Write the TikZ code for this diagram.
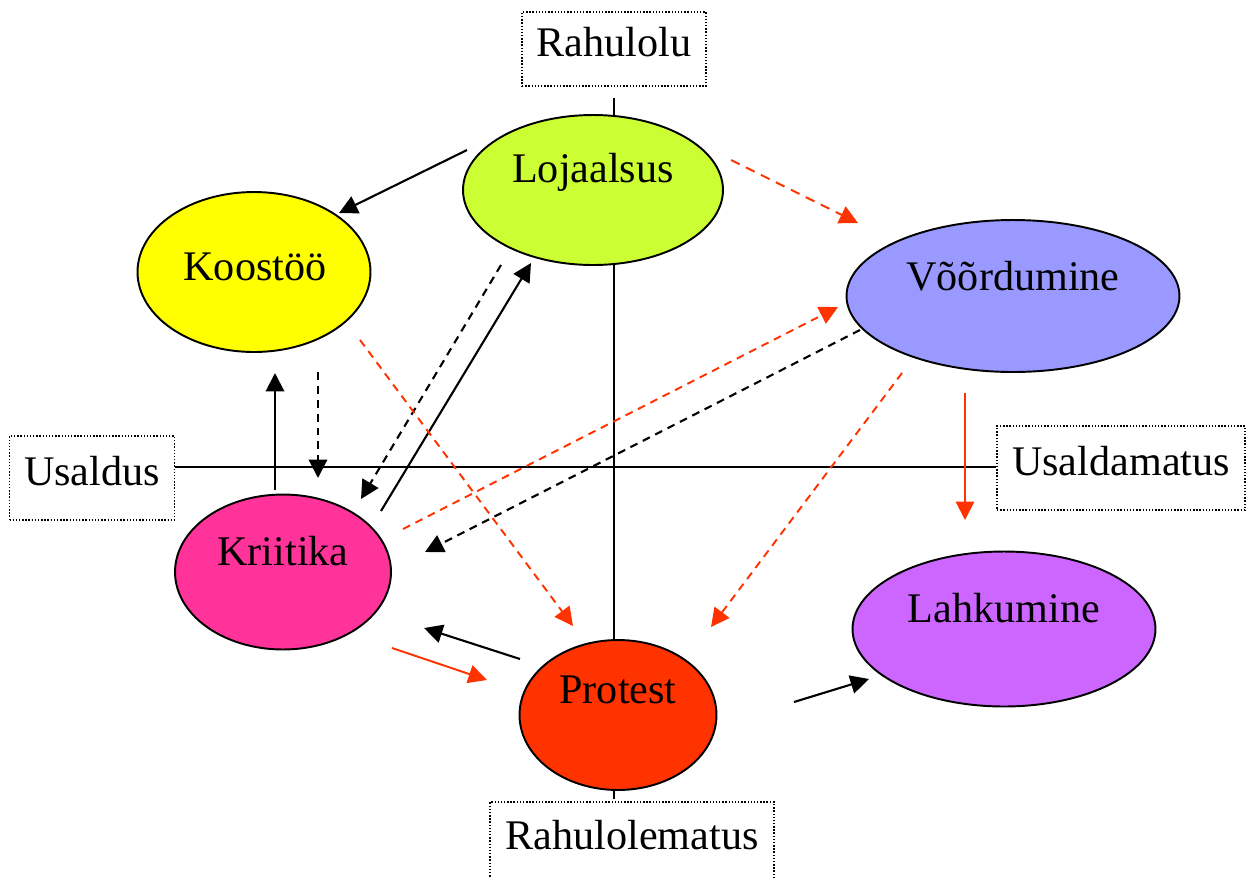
\documentclass[tikz,border=0pt]{standalone}
\usepackage{fontspec}
\setmainfont{Liberation Serif}
\usetikzlibrary{arrows.meta,shapes.geometric}
\definecolor{lojcolor}{RGB}{204,255,51}
\definecolor{koocolor}{RGB}{255,255,0}
\definecolor{voocolor}{RGB}{153,153,255}
\definecolor{kricolor}{RGB}{255,51,153}
\definecolor{lahcolor}{RGB}{204,102,255}
\definecolor{procolor}{RGB}{255,51,0}
\definecolor{arrcolor}{RGB}{255,51,0}

\begin{document}
\begin{tikzpicture}[x=0.02cm,y=-0.02cm,
    font=\fontsize{24}{28}\selectfont,
    axisbox/.style={draw,densely dotted,line width=0.8pt,inner sep=0pt,text height=17pt,text depth=9pt},
    blob/.style={ellipse,draw,line width=1.1pt,inner sep=0pt},
    word/.style={text height=17pt,text depth=5pt,inner sep=0pt},
    blk/.style={-{Triangle[length=10.5pt,width=10.5pt]},line width=1.2pt},
    red/.style={blk,arrcolor,line width=1.1pt},
    dsh/.style={dash pattern=on 4.5pt off 3.4pt}]
  \useasboundingbox (0,0) rectangle (1252,877);
  % boxes on the axes
  \node[axisbox,minimum width=3.68cm,minimum height=1.48cm] (rah) at (614,49) {Rahulolu};
  \node[axisbox,minimum width=5.68cm,minimum height=1.6cm] (rahm) at (632,842) {Rahulolematus};
  \node[axisbox,minimum width=3.3cm,minimum height=1.68cm] (usal) at (92,478) {Usaldus};
  \node[axisbox,minimum width=4.96cm,minimum height=1.68cm] (usam) at (1121,468) {Usaldamatus};
  \draw[line width=1.1pt] (usal.east |- 0,467) -- (usam.west |- 0,467);
  \draw[line width=1.1pt,shorten <=0.22cm,shorten >=0.04cm] (rah.south) -- (rah.south |- rahm.north);
  % ellipses
  \node[blob,fill=lojcolor,minimum width=5.2cm,minimum height=3cm] (loj) at (593,190) {};
  \node[blob,fill=koocolor,minimum width=4.66cm,minimum height=3.2cm] (koo) at (254,272) {};
  \node[blob,fill=voocolor,minimum width=6.66cm,minimum height=3.04cm] (voo) at (1013,296) {};
  \node[blob,fill=kricolor,minimum width=4.32cm,minimum height=3.1cm] (kri) at (283,572) {};
  \node[blob,fill=lahcolor,minimum width=6.06cm,minimum height=3.1cm] (lah) at (1004,629) {};
  \node[blob,fill=procolor,minimum width=3.94cm,minimum height=3cm] (pro) at (618,715) {};
  \node[word] (lojtxt) at (593,172) {Lojaalsus};
  \node[word] (kootxt) at (255,270) {Koostöö};
  \node[word] (vootxt) at (1013,280) {Võõrdumine};
  \node[word] (kritxt) at (283,555) {Kriitika};
  \node[word] (lahtxt) at (1004,612) {Lahkumine};
  \node[word] (protxt) at (618,693) {Protest};
  % arrow ends
  \coordinate (lk1) at (467,150);  \coordinate (lk2) at (339,213);
  \coordinate (kk1) at (275,490);  \coordinate (kk2) at (275,373);
  \coordinate (kl1) at (381,511);  \coordinate (kl2) at (531,263);
  \coordinate (pk1) at (520,659);  \coordinate (pk2) at (424,628);
  \coordinate (pl1) at (794,702);  \coordinate (pl2) at (869,679);
  \coordinate (ki1) at (318,372);  \coordinate (ki2) at (318,478);
  \coordinate (li1) at (501,265);  \coordinate (li2) at (361,499);
  \coordinate (vk1) at (860,330);  \coordinate (vk2) at (425,552);
  \coordinate (vl1) at (965,393);  \coordinate (vl2) at (965,520);
  \coordinate (kp1) at (392,648);  \coordinate (kp2) at (487,680);
  \coordinate (lv1) at (731,160);  \coordinate (lv2) at (858,223);
  \coordinate (op1) at (360,340);  \coordinate (op2) at (573,626);
  \coordinate (kv1) at (403,529);  \coordinate (kv2) at (838,307);
  \coordinate (vp1) at (902,373);  \coordinate (vp2) at (711,627);
  % black arrows
  \foreach \a in {lk,kk,kl,pk,pl}
    \draw[blk] (\a1) -- (\a2);
  \foreach \a in {ki,li,vk}
    \draw[blk,dsh] (\a1) -- (\a2);
  % red arrows
  \foreach \a in {vl,kp}
    \draw[red] (\a1) -- (\a2);
  \draw[red,dash pattern=on 5.5pt off 4pt] (lv1) -- (lv2);
  \foreach \a in {op,kv,vp}
    \draw[red,dsh] (\a1) -- (\a2);
\end{tikzpicture}
\end{document}
